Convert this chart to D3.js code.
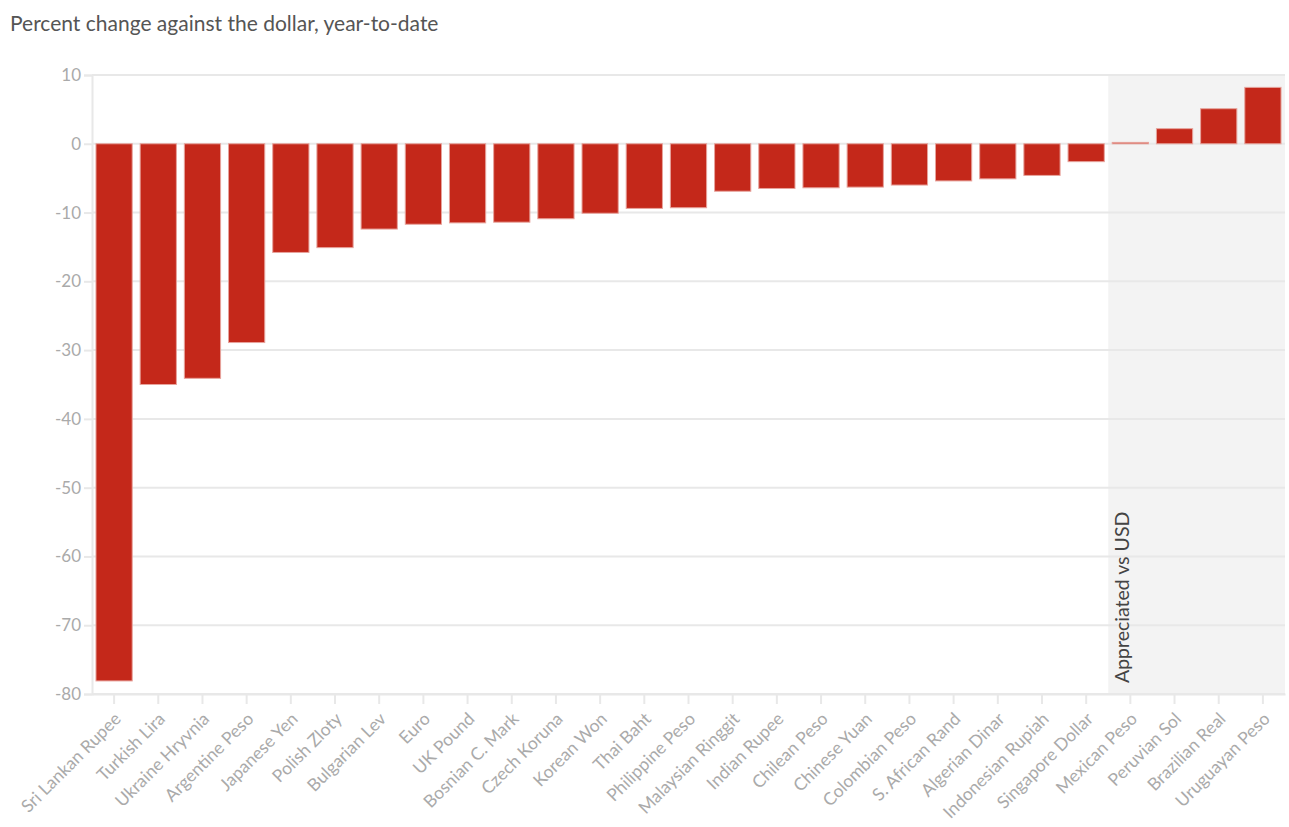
<!DOCTYPE html>
<html>
<head>
<meta charset="utf-8">
<script src="https://cdn.jsdelivr.net/npm/d3@7/dist/d3.min.js"></script>
<style>
  html, body { margin: 0; padding: 0; background: #fff; }
  svg { display: block; font-family: "Source Sans Pro", Lato, "Open Sans", sans-serif; }
</style>
</head>
<body>
<svg id="chart" width="1289" height="827"></svg>
<script>
const title = "Percent change against the dollar, year-to-date";
const currencies = ["Sri Lankan Rupee","Turkish Lira","Ukraine Hryvnia","Argentine Peso","Japanese Yen","Polish Zloty","Bulgarian Lev","Euro","UK Pound","Bosnian C. Mark","Czech Koruna","Korean Won","Thai Baht","Philippine Peso","Malaysian Ringgit","Indian Rupee","Chilean Peso","Chinese Yuan","Colombian Peso","S. African Rand","Algerian Dinar","Indonesian Rupiah","Singapore Dollar","Mexican Peso","Peruvian Sol","Brazilian Real","Uruguayan Peso"];
const changes = [-78.1,-35.0,-34.1,-28.9,-15.8,-15.1,-12.4,-11.7,-11.5,-11.4,-10.9,-10.1,-9.4,-9.3,-6.9,-6.5,-6.4,-6.3,-6.0,-5.4,-5.1,-4.6,-2.6,0.2,2.2,5.1,8.2];
const yTicks = [10,0,-10,-20,-30,-40,-50,-60,-70,-80];
const appreciatedFrom = "Mexican Peso";
const annotation = "Appreciated vs USD";

(function () {
const svg = d3.select("#chart");
const mLeft = 92, mRight = 1285, mTop = 75, mBottom = 694;
const font = "\"Source Sans Pro\", Lato, \"Open Sans\", sans-serif";

const x = d3.scaleBand().domain(currencies).range([mLeft, mRight]).paddingInner(0.18).paddingOuter(0.09);
const y = d3.scaleLinear().domain([-80, 10]).range([mBottom, mTop]);

svg.append("text").attr("x", 10).attr("y", 31)
  .attr("font-size", 21).attr("fill", "#555").text(title);

// shaded region
const shadeX = x(appreciatedFrom) - x.step() * x.paddingInner() / 2;
svg.append("rect").attr("x", shadeX).attr("y", mTop)
  .attr("width", mRight - shadeX).attr("height", mBottom - mTop)
  .attr("fill", "#f3f3f3");

// grid + y axis
const yAxis = d3.axisLeft(y).tickValues(yTicks).tickSize(8).tickPadding(3)
  .tickFormat(d => String(d));
const gy = svg.append("g").attr("transform", `translate(${mLeft},0)`).call(yAxis);
gy.select(".domain").attr("stroke", "#e8e8e8").attr("stroke-width", 2);
gy.selectAll(".tick line").attr("stroke", "#e8e8e8").attr("stroke-width", 2);
gy.selectAll(".tick text").attr("font-size", 17).attr("fill", "#aaa")
  .attr("font-family", font);
svg.append("g").selectAll("line").data(yTicks).join("line")
  .attr("x1", mLeft).attr("x2", mRight)
  .attr("y1", d => y(d)).attr("y2", d => y(d))
  .attr("stroke", "#e8e8e8").attr("stroke-width", 2);

// bars
svg.append("g").selectAll("rect").data(currencies).join("rect")
  .attr("x", d => x(d))
  .attr("width", x.bandwidth())
  .attr("y", (d, i) => y(Math.max(0, changes[i])))
  .attr("height", (d, i) => Math.abs(y(changes[i]) - y(0)))
  .attr("fill", "#c4281a")
  .attr("stroke", "#e7a39c").attr("stroke-width", 1);

// x axis
const xAxis = d3.axisBottom(x).tickSize(10).tickSizeOuter(0);
const gx = svg.append("g").attr("transform", `translate(0,${mBottom})`).call(xAxis);
gx.select(".domain").attr("stroke", "#e8e8e8").attr("stroke-width", 2);
gx.selectAll(".tick line").attr("stroke", "#e8e8e8").attr("stroke-width", 2);
gx.selectAll(".tick text")
  .attr("font-size", 17.5).attr("fill", "#aaa")
  .attr("font-family", font)
  .attr("text-anchor", "end")
  .attr("x", 0).attr("y", 0).attr("dy", null)
  .attr("transform", "translate(8,26) rotate(-45)");

// annotation
const ax = shadeX + 21;
svg.append("text").attr("transform", `translate(${ax},${mBottom - 11}) rotate(-90)`)
  .attr("font-size", 19.5).attr("fill", "#444").text(annotation);
})();
</script>
</body>
</html>
